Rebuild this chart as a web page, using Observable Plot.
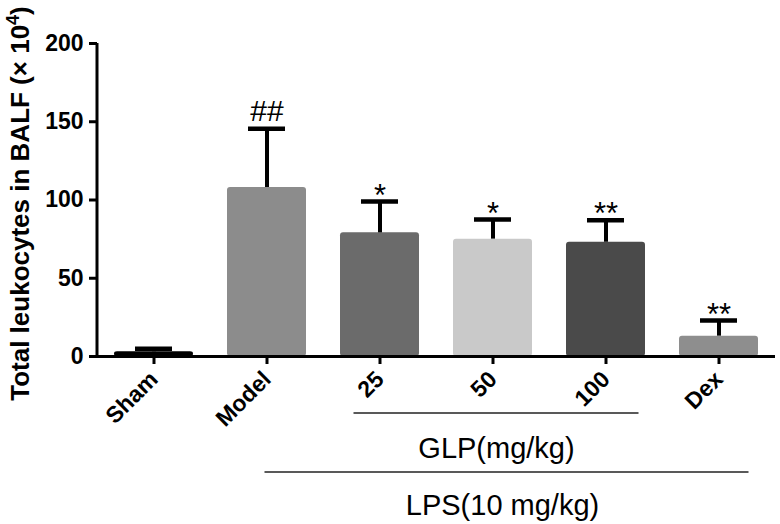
<!DOCTYPE html>
<html>
<head>
<meta charset="utf-8">
<script src="https://cdn.jsdelivr.net/npm/d3@7"></script>
<script src="https://cdn.jsdelivr.net/npm/@observablehq/plot@0.6"></script>
<style>
  html, body { margin: 0; padding: 0; background: white; }
  svg { display: block; }
  g[aria-label="x-axis tick label"] text, g[aria-label="y-axis tick label"] text { font-weight: bold; }
</style>
</head>
<body>
<div id="chart"></div>
<script>
const groups = ["Sham", "Model", "25", "50", "100", "Dex"];
const means = [3, 108, 79, 75, 73, 13];
const sems = [2, 37.5, 20, 12.5, 14, 10];
const signif = ["", "##", "*", "*", "**", "**"];
const colors = ["#000000", "#8c8c8c", "#6b6b6b", "#c9c9c9", "#4a4a4a", "#8e8e8e"];
const yTicks = [0, 50, 100, 150, 200];
const yLabel = "Total leukocytes in BALF (× 10";
const yLabelSup = "4";
const glpLabel = "GLP(mg/kg)";
const glpGroups = ["25", "100"];
const lpsLabel = "LPS(10 mg/kg)";
const lpsGroups = ["Model", "Dex"];

const data = groups.map((g, i) => ({
  group: g, mean: means[i], top: means[i] + sems[i], sig: signif[i]
}));

const FONT = "'Liberation Sans', Arial, Helvetica, sans-serif";

const plot = Plot.plot({
  width: 780,
  height: 524,
  marginLeft: 97,
  marginRight: 5,
  marginTop: 43,
  marginBottom: 168,
  style: { fontFamily: FONT, background: "white", color: "black", overflow: "visible" },
  x: { domain: groups, paddingInner: 0.3, paddingOuter: 0.15, label: null },
  y: { domain: [0, 200], label: null },
  color: { domain: groups, range: colors },
  marks: [
    Plot.barY(data, { x: "group", y: "mean", fill: "group", rx: 3 }),
    Plot.ruleX(data, { x: "group", y1: "mean", y2: "top", stroke: "black", strokeWidth: 4 }),
    Plot.tickY(data, { x: "group", y: "top", stroke: "black", strokeWidth: 4.5, insetLeft: 21, insetRight: 21 }),
    Plot.text(data.filter(d => d.sig.startsWith("#")), {
      x: "group", y: "top", text: "sig", fontSize: 30, lineAnchor: "bottom", dy: -8, fill: "black"
    }),
    Plot.text(data.filter(d => d.sig.startsWith("*")), {
      x: "group", y: "top", text: "sig", fontSize: 31, lineAnchor: "bottom", dy: 4, fill: "black"
    }),
    Plot.ruleY([0], { stroke: "black", strokeWidth: 3 }),
    Plot.axisY({
      ticks: yTicks, tickSize: 8, tickPadding: 6, fontSize: 23, fontWeight: "bold",
      strokeWidth: 3, tickFormat: d => String(d), label: null
    }),
    Plot.axisX({
      tickSize: 8, tickPadding: 11, tickRotate: -45, fontSize: 23, fontWeight: "bold",
      strokeWidth: 3, label: null
    })
  ]
});

document.getElementById("chart").appendChild(plot);

const svg = d3.select(plot);
const xs = plot.scale("x");
const ys = plot.scale("y");
const bw = xs.bandwidth;
const cx = g => xs.apply(g) + bw / 2;

// y axis line
svg.append("line")
  .attr("x1", 97).attr("x2", 97)
  .attr("y1", ys.apply(200)).attr("y2", ys.apply(0) + 1.5)
  .attr("stroke", "black").attr("stroke-width", 3);

// y axis label
const yl = svg.append("text")
  .attr("transform", `translate(29, ${(ys.apply(0) + ys.apply(200)) / 2 + 4}) rotate(-90)`)
  .attr("text-anchor", "middle")
  .attr("font-family", FONT)
  .attr("font-weight", "bold")
  .attr("font-size", 26)
  .attr("fill", "black");
yl.append("tspan").text(yLabel);
yl.append("tspan").attr("dy", "-0.55em").attr("font-size", 18).text(yLabelSup);
yl.append("tspan").attr("dy", "0.38em").text(")");

// group lines and labels
const axisY0 = ys.apply(0);
const glpX1 = cx(glpGroups[0]) - 26, glpX2 = cx(glpGroups[1]) + 33;
svg.append("line")
  .attr("x1", glpX1).attr("x2", glpX2)
  .attr("y1", axisY0 + 57).attr("y2", axisY0 + 57)
  .attr("stroke", "#222").attr("stroke-width", 1.6);
svg.append("text")
  .attr("x", (cx(glpGroups[0]) + cx(glpGroups[1])) / 2 + 4)
  .attr("y", axisY0 + 102)
  .attr("text-anchor", "middle")
  .attr("font-family", FONT).attr("font-size", 29).attr("fill", "black")
  .text(glpLabel);

const lpsX1 = cx(lpsGroups[0]) - 2, lpsX2 = cx(lpsGroups[1]) + 30;
svg.append("line")
  .attr("x1", lpsX1).attr("x2", lpsX2)
  .attr("y1", axisY0 + 116).attr("y2", axisY0 + 116)
  .attr("stroke", "#222").attr("stroke-width", 1.6);
svg.append("text")
  .attr("x", (cx(lpsGroups[0]) + cx(lpsGroups[1])) / 2 + 10)
  .attr("y", axisY0 + 159)
  .attr("text-anchor", "middle")
  .attr("font-family", FONT).attr("font-size", 29).attr("fill", "black")
  .text(lpsLabel);
</script>
</body>
</html>
